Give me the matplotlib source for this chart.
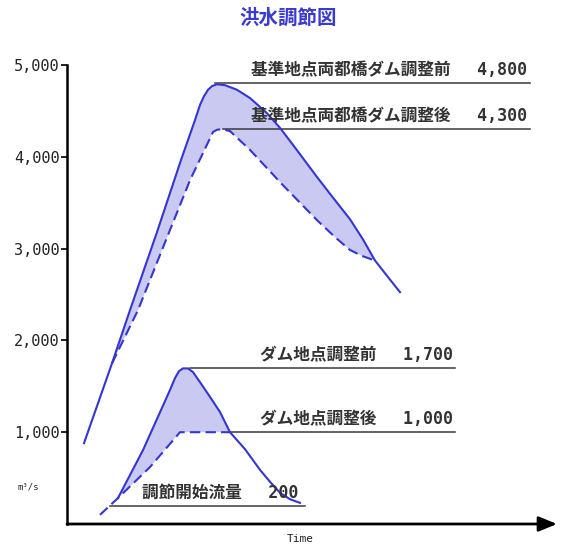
import numpy as np
import matplotlib.pyplot as plt

plt.rcParams['font.family'] = ['DejaVu Sans Mono', 'Noto Sans CJK JP']

#%% data (time in arbitrary units, flow in m3/s)
# reference point, before dam regulation
t_ref_before = [1.7, 4.5, 6.3, 9.0, 11.4, 12.8, 13.3, 13.7, 14.1, 14.5, 15.0, 15.8, 17.0, 18.3,
                20.0, 21.3, 22.6, 23.8, 25.0, 26.6, 28.3, 29.6, 30.8, 32.1, 33.3]
q_ref_before = [880, 1750, 2330, 3180, 3965, 4400, 4565, 4660, 4730, 4770, 4790, 4780, 4730, 4640,
                4475, 4315, 4130, 3955, 3780, 3555, 3320, 3100, 2870, 2690, 2525]
# reference point, after dam regulation
t_ref_after = [4.5, 7.1, 9.7, 12.3, 14.6, 15.0, 15.5, 16.3, 18.3, 21.6, 25.0, 26.8, 28.3, 29.5, 30.8]
q_ref_after = [1750, 2330, 3040, 3745, 4270, 4295, 4300, 4280, 4075, 3690, 3310, 3125, 2985, 2920, 2870]

# dam point, before regulation
t_dam_before = [5.1, 7.6, 10.3, 10.8, 11.2, 11.6, 12.1, 12.6, 13.3, 14.3, 15.3, 16.3,
                17.8, 19.3, 20.3, 21.3, 22.3, 23.3]
q_dam_before = [283, 805, 1460, 1590, 1665, 1695, 1695, 1655, 1545, 1385, 1220, 1000,
                815, 590, 460, 340, 270, 230]
# dam point, after regulation
t_dam_after = [3.3, 5.1, 8.3, 11.3, 16.3]
q_dam_after = [100, 283, 620, 1000, 1000]

# reference lines
ref_vals = [4800, 4300, 1700, 1000, 200]
ref_t0 = [14.8, 15.6, 12.3, 16.3, 4.3]
ref_t1 = [46.3, 46.3, 38.8, 38.8, 23.8]
ref_labels = ['基準地点両都橋ダム調整前　 4,800',
              '基準地点両都橋ダム調整後　 4,300',
              'ダム地点調整前　 1,700',
              'ダム地点調整後　 1,000',
              '調節開始流量　 200']
ref_label_t = [46.0, 46.0, 38.6, 38.6, 23.1]

yticks = [1000, 2000, 3000, 4000, 5000]
ytick_labels = ['1,000', '2,000', '3,000', '4,000', '5,000']

line_c = '#3535d0'
fill_c = '#c9c9f2'

#%% plot
fig = plt.figure(figsize=(5.61, 5.51), dpi=100)
W, H = 561, 551
ax = fig.add_axes([67 / W, (H - 524) / H, (557 - 67) / W, (524 - 65) / H])
ax.set_xlim(0, 49)
ax.set_ylim(0, 5000)

# shaded areas between before / after
def shade(tb, qb, ta, qa):
    tb, qb, ta, qa = map(np.asarray, (tb, qb, ta, qa))
    m = (tb >= ta[0]) & (tb <= ta[-1])
    xs = np.concatenate([tb[m], ta[::-1]])
    ys = np.concatenate([qb[m], qa[::-1]])
    ax.fill(xs, ys, color=fill_c, lw=0, zorder=1)

shade(t_ref_before, q_ref_before, t_ref_after, q_ref_after)
shade(t_dam_before, q_dam_before, t_dam_after, q_dam_after)

ax.plot(t_ref_before, q_ref_before, color=line_c, lw=1.5, zorder=3, solid_joinstyle='round')
ax.plot(t_ref_after, q_ref_after, color=line_c, lw=1.5, ls=(0, (5, 2.5)), zorder=3)
ax.plot(t_dam_before, q_dam_before, color=line_c, lw=1.5, zorder=3, solid_joinstyle='round')
ax.plot(t_dam_after, q_dam_after, color=line_c, lw=1.5, ls=(0, (5, 2.5)), zorder=3)

for v, a, b, lab, lt in zip(ref_vals, ref_t0, ref_t1, ref_labels, ref_label_t):
    ax.plot([a, b], [v, v], color='#3a3a3a', lw=1.1, zorder=2)
    ax.annotate(lab, (lt, v), xytext=(0, 3), textcoords='offset points',
                ha='right', va='bottom', fontsize=12, color='#333333', fontweight='bold')

# axes
for s in ['top', 'right', 'bottom']:
    ax.spines[s].set_visible(False)
ax.spines['left'].set_linewidth(1.8)
ax.set_xticks([])
ax.set_yticks(yticks)
ax.set_yticklabels(ytick_labels)
ax.tick_params(axis='y', length=4, width=1.4, pad=1.5, labelsize=11, colors='#222222')
ax.annotate('', xy=(1.0, 0), xytext=(0, 0), xycoords='axes fraction',
            arrowprops=dict(arrowstyle='-|>,head_length=1.1,head_width=0.45',
                            lw=2.0, color='black', shrinkA=0, shrinkB=0))

fig.text(288 / W, 1 - 18 / H, '洪水調節図', ha='center', va='center',
         fontsize=14, color='#3a3ad0', fontweight='bold', family=['Noto Sans CJK JP'])
fig.text(300 / W, 1 - 539 / H, 'Time', ha='center', va='center', fontsize=8, color='#222222')
fig.text(28 / W, 1 - 487 / H, 'm³/s', ha='center', va='center', fontsize=6.5, color='#222222')

fig.savefig('out.png', dpi=100)
